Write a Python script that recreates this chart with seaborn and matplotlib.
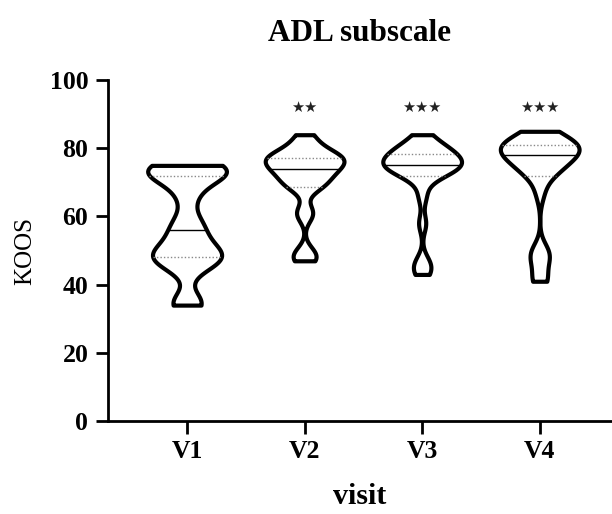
import seaborn as sns, numpy as np, pandas as pd
import matplotlib.pyplot as plt

# estimated KOOS ADL scores per visit
visits = ["V1", "V2", "V3", "V4"]
v1 = [34, 35, 45, 47, 48, 49, 50, 53, 56, 59, 66, 71, 72, 73, 74, 75, 75]
v2 = [47, 48, 50, 60, 62, 68, 69, 70, 71, 72, 73, 74, 74, 75, 76, 76, 77, 77, 78, 78, 79, 80, 82, 84]
v3 = [43, 45, 47, 58, 66, 71, 72, 73, 74, 74, 75, 75, 75, 76, 76, 77, 78, 78, 79, 79, 80, 81, 82, 84]
v4 = [41, 42, 47, 49, 50, 67, 72, 73, 74, 75, 76, 77, 78, 78, 79, 79, 80, 80, 81, 81, 82, 82, 83, 84, 85]
stars = ["", "★★", "★★★", "★★★"]

df = pd.DataFrame({
    "visit": ["V1"] * len(v1) + ["V2"] * len(v2) + ["V3"] * len(v3) + ["V4"] * len(v4),
    "KOOS": v1 + v2 + v3 + v4,
})

sns.set_style("ticks", {"axes.edgecolor": "black", "text.color": "black",
                        "xtick.color": "black", "ytick.color": "black",
                        "axes.labelcolor": "black"})
plt.rcParams["font.family"] = ["Liberation Serif", "DejaVu Serif"]

fig = plt.figure(figsize=(6.12, 5.14), dpi=100)
ax = fig.add_axes([0.176, 0.181, 0.824, 0.663])

sns.violinplot(data=df, x="visit", y="KOOS", order=visits, cut=0, inner="quart",
               density_norm="width", width=0.67, bw_adjust=0.42, color="white",
               linecolor="black", linewidth=3, ax=ax)

# median solid black, quartiles dotted grey
for i, ln in enumerate(ax.lines):
    if i % 3 == 1:
        ln.set_linestyle("-")
        ln.set_color("black")
        ln.set_linewidth(1.0)
    else:
        ln.set_linestyle((0, (1, 1.5)))
        ln.set_color("#888888")
        ln.set_linewidth(1.0)

for i, s in enumerate(stars):
    if s:
        ax.text(i, 92, s, ha="center", va="center", fontsize=10.5,
                family="DejaVu Sans", color="#222222")

ax.set_ylim(0, 100)
ax.set_xlim(-0.675, 3.615)
ax.set_yticks([0, 20, 40, 60, 80, 100])
sns.despine(ax=ax)
for sp in ["left", "bottom"]:
    ax.spines[sp].set_linewidth(2)
ax.tick_params(length=9, width=2, labelsize=18.5, pad=5, colors="black")
for lab in ax.get_xticklabels() + ax.get_yticklabels():
    lab.set_fontweight("bold")
ax.set_xlabel("visit", fontsize=21.5, fontweight="bold", labelpad=14)
ax.set_ylabel("KOOS", fontsize=18, labelpad=10)
ax.set_title("ADL subscale", fontsize=22.5, fontweight="bold", pad=28)

fig.savefig("out.png", dpi=100)
